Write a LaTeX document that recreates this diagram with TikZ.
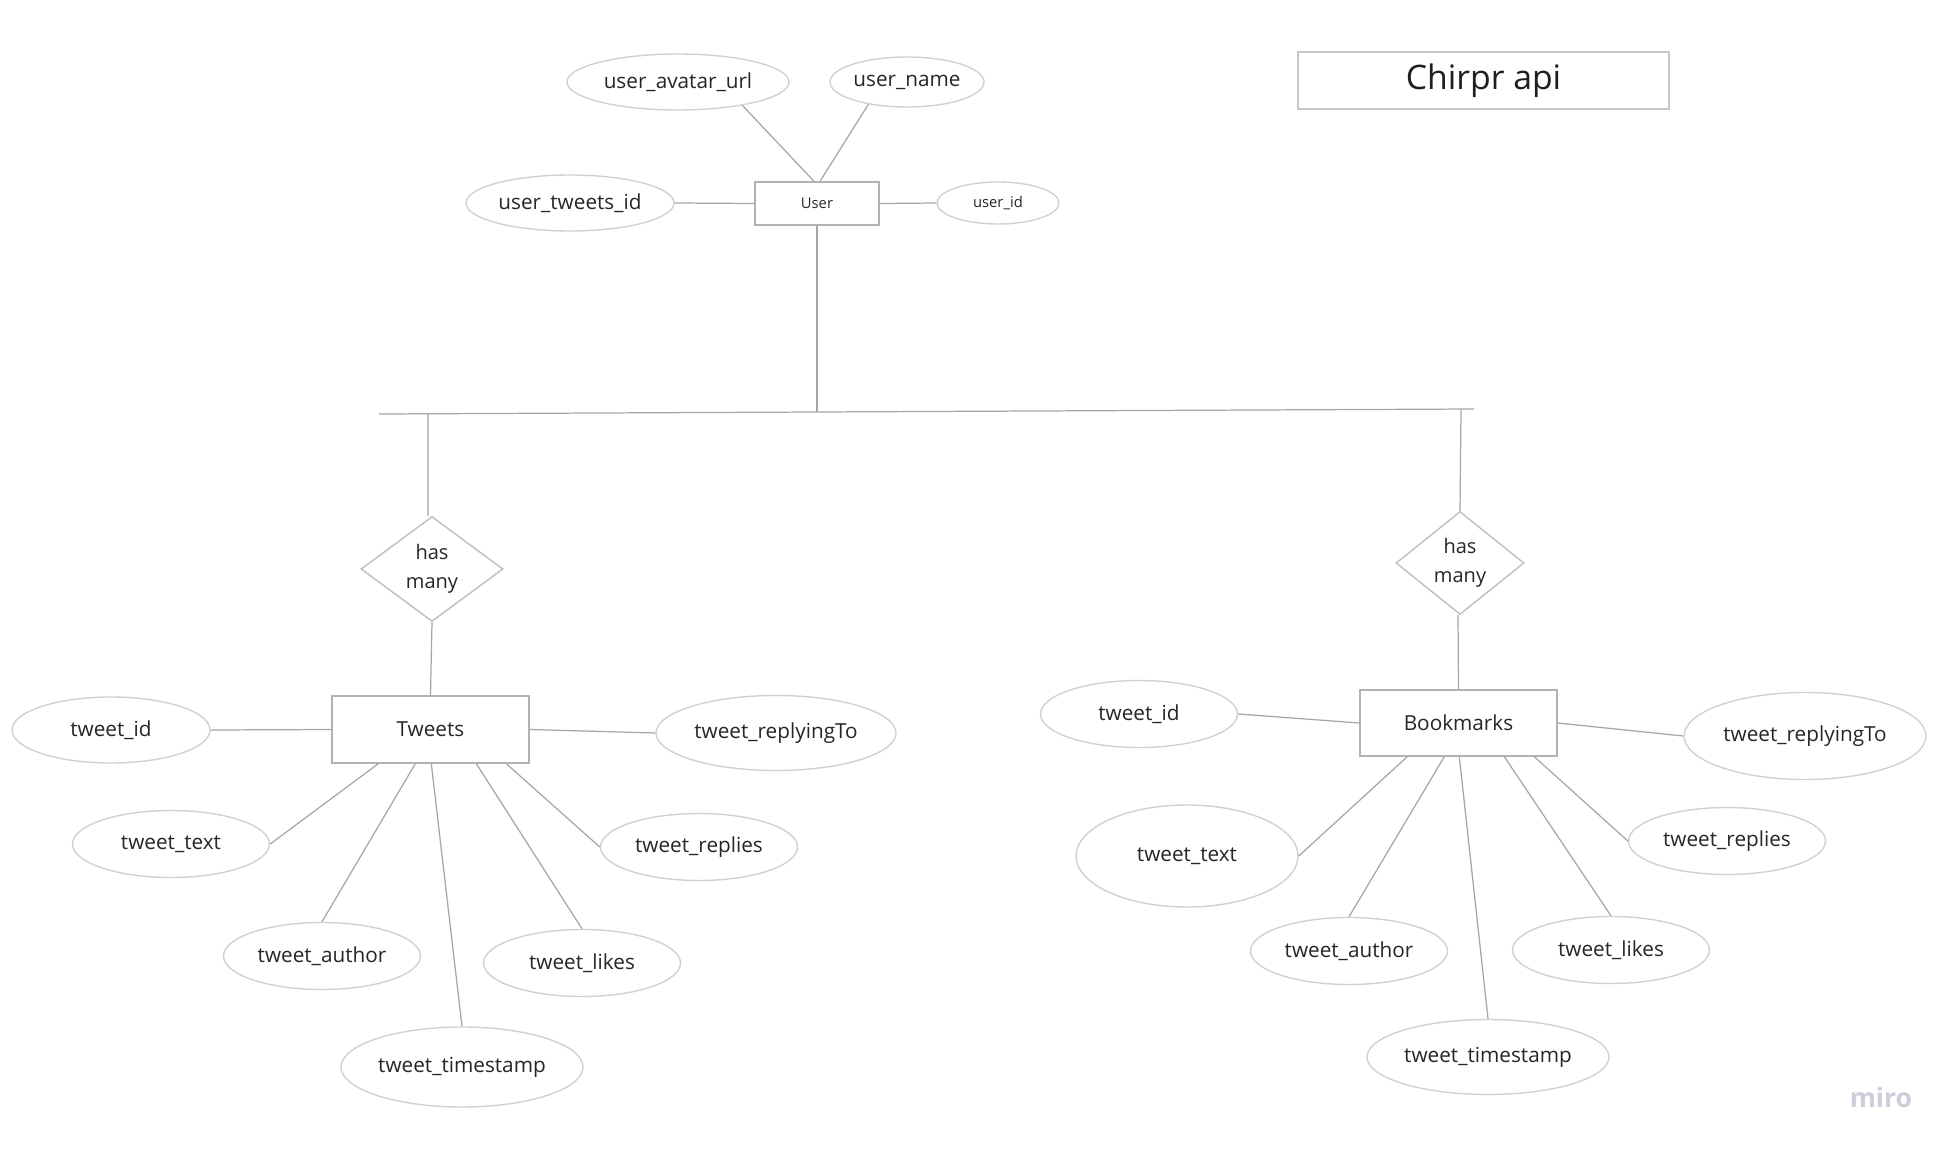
\documentclass[tikz,border=0pt]{standalone}
\usepackage{fontspec}
\setmainfont{Open Sans}
\usepackage{tikz}
\usetikzlibrary{shapes.geometric}

\begin{document}
\begin{tikzpicture}[
        >=stealth,
        % Styles
        entity/.style={rectangle, draw=black!30, fill=white, text=black!85, inner sep=0pt, minimum width=1.97cm, minimum height=0.67cm, font=\fontsize{5.9}{7}\selectfont},
        attr/.style={ellipse, draw=black!18, fill=white, text=black!85, inner sep=0pt, minimum width=1.97cm, minimum height=0.67cm, font=\fontsize{5.9}{7}\selectfont},
        small/.style={font=\fontsize{4.2}{5}\selectfont},
        relation/.style={diamond, draw=black!25, fill=white, text=black!85, inner sep=0pt, align=center, font=\fontsize{5.7}{8.2}\selectfont},
        title/.style={rectangle, draw=black!22, text=black!88, minimum width=3.71cm, minimum height=0.57cm, font=\fontsize{9.6}{11}\selectfont},
        link/.style={draw=black!35, line width=0.35pt}
    ]

    % page frame
    \useasboundingbox[fill=white] (0,0) rectangle (19.57,-11.49);

    \node[title] (ttl) at (14.835,-0.805) {Chirpr api};

    % ================= USER =================
    \node[entity, small, minimum width=1.24cm, minimum height=0.43cm] (user) at (8.17,-2.035) {User};

    \node[attr, minimum width=2.22cm, minimum height=0.56cm] (uavatar) at (6.78,-0.82) {user\_avatar\_url};
    \node[attr, minimum width=1.54cm, minimum height=0.50cm] (uname) at (9.07,-0.82) {user\_name};
    \node[attr, minimum width=2.08cm, minimum height=0.56cm] (utweets) at (5.70,-2.03) {user\_tweets\_id};
    \node[attr, small, minimum width=1.22cm, minimum height=0.42cm] (uid) at (9.98,-2.03) {user\_id};

    \draw[link] (uavatar.-20) -- ([xshift=-0.03cm]user.north);
    \draw[link] (uname.-150) -- ([xshift=0.03cm]user.north);
    \draw[link] (utweets.east) -- (user.west);
    \draw[link] (uid.west) -- (user.east);

    % bus line between user and both relations
    \coordinate (busL) at (3.79,-4.14);
    \coordinate (busR) at (14.74,-4.09);
    \coordinate (jU) at (8.17,-4.12);
    \coordinate (jT) at (4.28,-4.14);
    \coordinate (jB) at (14.61,-4.095);
    \draw[link] (busL) -- (busR);
    \draw[link] (user.south) -- (jU);

    % ================= TWEETS =================
    \node[relation, minimum width=1.42cm, minimum height=1.05cm] (hasT) at (4.32,-5.69) {has\\many};
    \node[entity] (tw) at (4.305,-7.295) {Tweets};

    \draw[link] (jT) -- ([xshift=-0.04cm]hasT.north);
    \draw[link] (hasT.south) -- (tw.north);

    \node[attr, minimum width=1.98cm, minimum height=0.66cm] (tid) at (1.11,-7.30) {tweet\_id};
    \node[attr, minimum width=2.40cm, minimum height=0.75cm] (treply) at (7.76,-7.33) {tweet\_replyingTo};
    \node[attr] (ttext) at (1.71,-8.44) {tweet\_text};
    \node[attr] (treplies) at (6.99,-8.47) {tweet\_replies};
    \node[attr] (tauthor) at (3.22,-9.56) {tweet\_author};
    \node[attr] (tlikes) at (5.82,-9.63) {tweet\_likes};
    \node[attr, minimum width=2.42cm, minimum height=0.80cm] (tstamp) at (4.62,-10.67) {tweet\_timestamp};

    \draw[link] (tid.east) -- (tw.west);
    \draw[link] (tw.east) -- (treply.west);
    \foreach \a/\anc/\off in {ttext/east/0.47, tauthor/north/0.84, tstamp/north/1.00, tlikes/north/1.45, treplies/west/1.75}
        \draw[link] ([xshift=\off cm]tw.south west) -- (\a.\anc);

    % ================= BOOKMARKS =================
    \node[relation, minimum width=1.28cm, minimum height=1.03cm] (hasB) at (14.60,-5.63) {has\\many};
    \node[entity, minimum height=0.66cm] (bm) at (14.585,-7.23) {Bookmarks};

    \draw[link] (jB) -- (hasB.north);
    \draw[link] ([xshift=-0.02cm]hasB.south) -- (bm.north);

    \node[attr] (bid) at (11.39,-7.14) {tweet\_id};
    \node[attr, minimum width=2.42cm, minimum height=0.87cm] (breply) at (18.05,-7.36) {tweet\_replyingTo};
    \node[attr, minimum width=2.22cm, minimum height=1.02cm] (btext) at (11.87,-8.56) {tweet\_text};
    \node[attr] (breplies) at (17.27,-8.41) {tweet\_replies};
    \node[attr] (bauthor) at (13.49,-9.51) {tweet\_author};
    \node[attr] (blikes) at (16.11,-9.50) {tweet\_likes};
    \node[attr, minimum width=2.42cm, minimum height=0.75cm] (bstamp) at (14.88,-10.57) {tweet\_timestamp};

    \draw[link] (bid.east) -- (bm.west);
    \draw[link] (bm.east) -- (breply.west);
    \foreach \a/\anc/\off in {btext/east/0.48, bauthor/north/0.85, bstamp/north/1.00, blikes/north/1.45, breplies/west/1.75}
        \draw[link] ([xshift=\off cm]bm.south west) -- (\a.\anc);

    % watermark
    \node[text={rgb,255:red,204;green,206;blue,220}, font=\fontsize{7.6}{9}\selectfont\bfseries] (miro) at (18.81,-10.97) {miro};

\end{tikzpicture}
\end{document}
